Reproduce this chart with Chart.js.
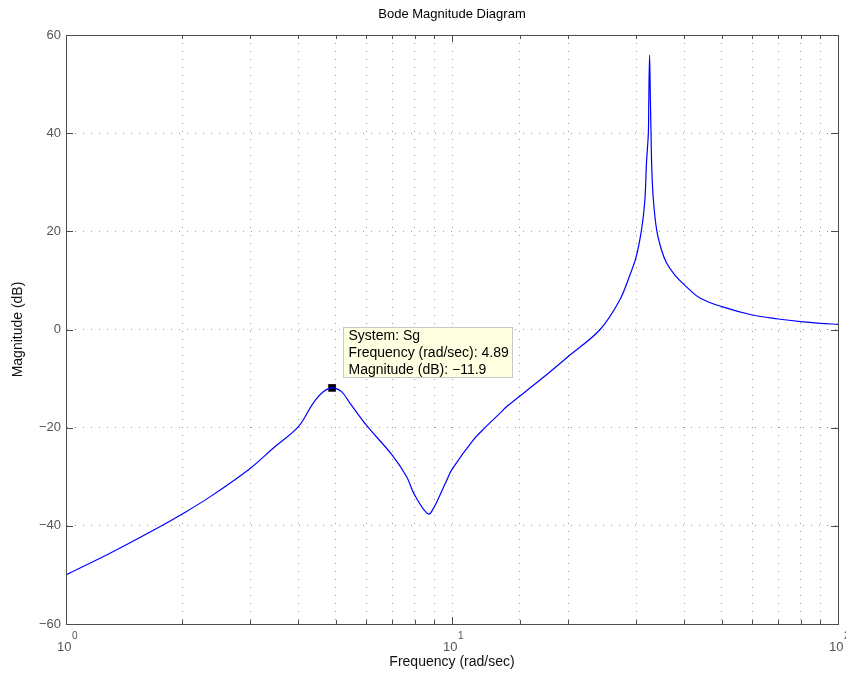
<!DOCTYPE html>
<html>
<head>
<meta charset="utf-8">
<title>Bode Magnitude Diagram</title>
<script src="https://cdn.jsdelivr.net/npm/chart.js@4.4.1/dist/chart.umd.min.js"></script>
<style>
  html, body { margin: 0; padding: 0; background: #fff; }
</style>
</head>
<body>
<canvas id="bode" width="846" height="677"></canvas>
<script>
// values
const freq = [1, 1.3, 1.75, 2, 2.36, 3, 3.44, 4, 4.37, 4.64, 4.89, 5.18, 5.44, 6, 7, 7.63, 8, 8.68, 9, 9.31, 9.69, 10,
  11.36, 12.18, 13.3, 13.86, 16.9, 20, 24.2, 27.2, 28.9, 30, 31, 31.6, 31.9, 32.26, 32.35, 32.5, 32.65, 32.78, 32.9,
  33.2, 33.9, 34.9, 36.0, 37.8, 40, 43.9, 50, 60, 70, 80, 90, 100];
const magDb = [-50.0, -45.6, -40.2, -37.6, -34.1, -28.3, -24.2, -19.8, -15.0, -12.7, -11.9, -12.7, -15.0, -19.5, -25.6, -30.0, -33.7, -37.6, -36.1, -33.7, -30.7, -28.5,
  -22.5, -20.0, -17.1, -15.7, -10.3, -5.5, 0.0, 6.0, 11.1, 14.8, 20.5, 26.4, 33.9, 40.0, 47.0, 55.9, 47.0, 40.0, 33.9,
  27.0, 20.3, 16.2, 13.5, 11.1, 9.1, 6.4, 4.65, 2.95, 2.14, 1.6, 1.26, 1.06];
const markFreq = [4.89];
const markDb = [-11.9];
const yTicks = [-60, -40, -20, 0, 20, 40, 60];
const xDecades = [1, 10, 100];
const tipLines = ['System: Sg', 'Frequency (rad/sec): 4.89', 'Magnitude (dB): \u221211.9'];

const FONT = '"Liberation Sans", Arial, Helvetica, sans-serif';
const AXIS = '#4d4d4d';
const GRID = '#9a9a9a';

const isDecade = v => Math.abs(Math.log10(v) - Math.round(Math.log10(v))) < 1e-9;

// box, inward ticks, decade labels and the data tip
const frame = {
  id: 'frame',
  afterDraw(chart) {
    const {ctx, chartArea: a, scales: {x, y}} = chart;
    ctx.save();
    ctx.strokeStyle = AXIS;
    ctx.lineWidth = 1;
    ctx.beginPath();
    x.ticks.forEach(t => {
      const px = Math.round(x.getPixelForValue(t.value)) + 0.5;
      const len = isDecade(t.value) ? 7 : 4;
      ctx.moveTo(px, a.bottom); ctx.lineTo(px, a.bottom - len);
      ctx.moveTo(px, a.top); ctx.lineTo(px, a.top + len);
    });
    y.ticks.forEach(t => {
      const py = Math.round(y.getPixelForValue(t.value)) + 0.5;
      ctx.moveTo(a.left, py); ctx.lineTo(a.left + 7, py);
      ctx.moveTo(a.right, py); ctx.lineTo(a.right - 7, py);
    });
    ctx.stroke();
    ctx.strokeRect(Math.round(a.left) + 0.5, Math.round(a.top) + 0.5,
      Math.round(a.right - a.left), Math.round(a.bottom - a.top));

    // 10^n labels
    ctx.fillStyle = '#555';
    ctx.textBaseline = 'alphabetic';
    xDecades.forEach(v => {
      const px = x.getPixelForValue(v);
      const sup = String(Math.round(Math.log10(v)));
      ctx.font = '13px ' + FONT;
      const w1 = ctx.measureText('10').width;
      ctx.font = '10px ' + FONT;
      const w2 = ctx.measureText(sup).width;
      const x0 = px - (w1 + w2) / 2 + 1;
      ctx.font = '13px ' + FONT;
      ctx.fillText('10', x0, 651);
      ctx.font = '10px ' + FONT;
      ctx.fillText(sup, x0 + w1 + 0.5, 639);
    });

    // data tip
    const pt = chart.getDatasetMeta(1).data[0];
    if (pt) {
      ctx.font = '14px ' + FONT;
      const w = Math.max(...tipLines.map(s => ctx.measureText(s).width));
      const bx = Math.round(pt.x + 11) + 0.5;
      const by = Math.round(pt.y - 61) + 0.5;
      const bw = Math.round(w + 9);
      const bh = 50;
      ctx.fillStyle = '#ffffe1';
      ctx.fillRect(bx, by, bw, bh);
      ctx.strokeStyle = '#c8c8c8';
      ctx.strokeRect(bx, by, bw, bh);
      ctx.fillStyle = '#000';
      ctx.textBaseline = 'middle';
      tipLines.forEach((s, i) => ctx.fillText(s, bx + 5, by + 9 + i * 16.8));
    }
    ctx.restore();
  }
};

new Chart(document.getElementById('bode'), {
  type: 'line',
  data: {
    datasets: [
      {
        label: 'Sg',
        data: freq.map((f, i) => ({x: f, y: magDb[i]})),
        borderColor: '#0000ff',
        borderWidth: 1.2,
        pointRadius: 0,
        tension: 0.35,
        fill: false
      },
      {
        label: 'marker',
        data: markFreq.map((f, i) => ({x: f, y: markDb[i]})),
        showLine: false,
        pointStyle: 'rect',
        pointRadius: 5.4,
        pointBackgroundColor: '#000',
        pointBorderColor: '#000',
        pointBorderWidth: 0
      }
    ]
  },
  options: {
    responsive: false,
    animation: false,
    events: [],
    layout: { padding: { left: 0, right: 8, top: 0, bottom: 0 } },
    plugins: {
      legend: { display: false },
      tooltip: { enabled: false },
      title: {
        display: true,
        text: 'Bode Magnitude Diagram',
        fullSize: false,
        color: '#000',
        font: { family: FONT, size: 13, weight: 'normal', lineHeight: 1 },
        padding: { top: 8, bottom: 14 }
      }
    },
    scales: {
      x: {
        type: 'logarithmic',
        min: 1,
        max: 100,
        afterFit: s => { s.height = 53; },
        grid: { color: GRID, lineWidth: 1, drawTicks: false },
        border: { display: true, color: AXIS, dash: [1, 7] },
        ticks: { autoSkip: false, maxRotation: 0, callback: () => '' },
        title: {
          display: true,
          text: 'Frequency (rad/sec)',
          color: '#111',
          font: { family: FONT, size: 14, lineHeight: 1.2 },
          padding: { top: 0, bottom: 6 }
        }
      },
      y: {
        min: -60,
        max: 60,
        afterFit: s => { s.width = 66; },
        afterBuildTicks: s => { s.ticks = yTicks.map(v => ({value: v})); },
        grid: { color: GRID, lineWidth: 1, drawTicks: false },
        border: { display: true, color: AXIS, dash: [1, 7] },
        ticks: {
          color: '#555',
          padding: 5,
          font: { family: FONT, size: 13 },
          callback: v => String(v).replace('-', '\u2212')
        },
        title: {
          display: true,
          text: 'Magnitude (dB)',
          color: '#111',
          font: { family: FONT, size: 14, lineHeight: 1.2 },
          padding: { top: 10, bottom: 0 }
        }
      }
    }
  },
  plugins: [frame]
});
</script>
</body>
</html>
